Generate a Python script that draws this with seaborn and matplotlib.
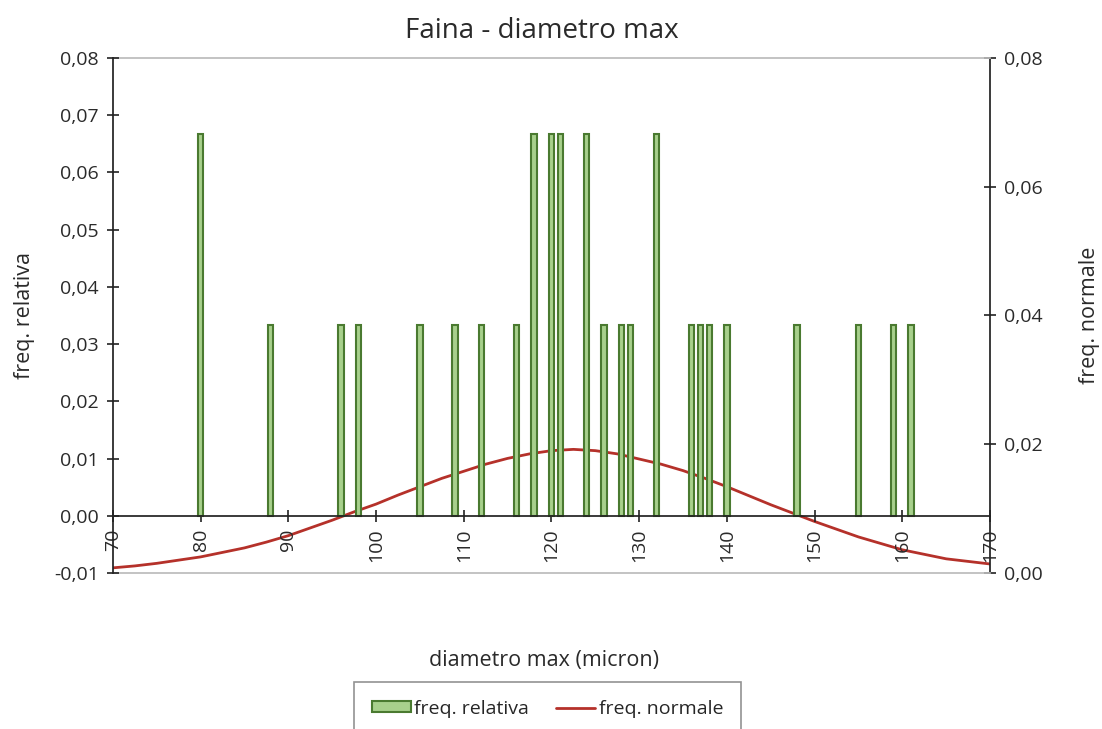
import numpy as np
import pandas as pd
import matplotlib
matplotlib.use('Agg')
import matplotlib.pyplot as plt
from matplotlib.patches import Patch
from matplotlib.lines import Line2D
from matplotlib.ticker import FuncFormatter, MultipleLocator
import seaborn as sns

# diametro max (micron) and relative frequency of each value (n = 30)
diametro = [80, 88, 96, 98, 105, 109, 112, 116, 118, 120, 121, 124,
            126, 128, 129, 132, 136, 137, 138, 140, 148, 155, 159, 161]
freq_relativa = [2/30, 1/30, 1/30, 1/30, 1/30, 1/30, 1/30, 1/30, 2/30, 2/30, 2/30, 2/30,
                 1/30, 1/30, 1/30, 2/30, 1/30, 1/30, 1/30, 1/30, 1/30, 1/30, 1/30, 1/30]

# normal curve, every 2.5 micron
x_norm = [70, 72.5, 75, 77.5, 80, 82.5, 85, 87.5, 90, 92.5, 95, 97.5, 100, 102.5,
          105, 107.5, 110, 112.5, 115, 117.5, 120, 122.5, 125, 127.5, 130, 132.5,
          135, 137.5, 140, 142.5, 145, 147.5, 150, 152.5, 155, 157.5, 160, 162.5,
          165, 167.5, 170]
freq_normale = [0.0008, 0.0011, 0.0015, 0.0020, 0.0025, 0.0032, 0.0039, 0.0048, 0.0058, 0.0070,
                0.0082, 0.0095, 0.0107, 0.0121, 0.0134, 0.0147, 0.0158, 0.0169, 0.0178, 0.0185,
                0.0190, 0.0192, 0.0190, 0.0185, 0.0177, 0.0169, 0.0159, 0.0147, 0.0134, 0.0120,
                0.0106, 0.0093, 0.0080, 0.0068, 0.0056, 0.0046, 0.0036, 0.0029, 0.0022, 0.0018,
                0.0014]

bars = pd.DataFrame({'diametro': diametro, 'freq': freq_relativa})
curve = pd.DataFrame({'x': x_norm, 'y': freq_normale})

sns.set_theme(style='white')
plt.rcParams['font.family'] = ['Open Sans', 'DejaVu Sans']

fig = plt.figure(figsize=(11.02, 7.29), dpi=100)
ax = fig.add_axes([0.1025, 0.214, 0.7959, 0.7066])

green_face = '#a8d08c'
green_edge = '#4a7a30'
red = '#b5312a'
txt = '#2a2a2a'

sns.barplot(data=bars, x='diametro', y='freq', native_scale=True, width=0.6,
            color=green_face, edgecolor=green_edge, linewidth=1.5, saturation=1, ax=ax)

ax.set_xlim(70, 170)
ax.set_ylim(-0.01, 0.08)
ax.yaxis.set_major_locator(MultipleLocator(0.01))
ax.xaxis.set_major_locator(MultipleLocator(10))
ax.yaxis.set_major_formatter(FuncFormatter(lambda v, p: f'{v:.2f}'.replace('.', ',')))
ax.xaxis.set_major_formatter(FuncFormatter(lambda v, p: f'{v:.0f}'))

ax.spines['bottom'].set_position(('data', 0))
ax.spines['bottom'].set_color('#222222')
ax.spines['left'].set_color('#222222')
ax.spines['top'].set_visible(False)
ax.spines['right'].set_visible(False)
ax.tick_params(axis='both', direction='inout', length=8, width=1.2, colors='#222222',
               labelsize=14, bottom=True, left=True)
ax.tick_params(axis='x', pad=5)
ax.tick_params(axis='y', pad=6)
for lab in ax.get_xticklabels():
    lab.set_rotation(90)
    lab.set_color(txt)
for lab in ax.get_yticklabels():
    lab.set_color(txt)

ax.set_xlabel('')
ax.set_ylabel('freq. relativa', fontsize=15.5, color=txt, labelpad=14)

ax2 = ax.twinx()
sns.lineplot(data=curve, x='x', y='y', color=red, linewidth=2, ax=ax2)
ax2.set_ylim(0, 0.08)
ax2.set_xlim(70, 170)
ax2.yaxis.set_major_locator(MultipleLocator(0.02))
ax2.yaxis.set_major_formatter(FuncFormatter(lambda v, p: f'{v:.2f}'.replace('.', ',')))
ax2.tick_params(axis='y', direction='inout', length=8, width=1.2, colors='#222222',
                labelsize=14, right=True, pad=6)
for lab in ax2.get_yticklabels():
    lab.set_color(txt)
ax2.spines['right'].set_color('#222222')
ax2.spines['left'].set_visible(False)
ax2.spines['top'].set_color('#bbbbbb')
ax2.spines['bottom'].set_color('#bbbbbb')
ax2.set_xlabel('')
ax2.set_ylabel('freq. normale', fontsize=15.5, color=txt, labelpad=26)

ax.set_zorder(ax2.get_zorder() + 1)
ax.patch.set_visible(False)
ax2.set_zorder(0)

fig.text(0.492, 0.957, 'Faina - diametro max', ha='center', va='center',
         fontsize=20, color=txt)
fig.text(0.494, 0.094, 'diametro max (micron)', ha='center', va='center',
         fontsize=15.5, color=txt)

handles = [Patch(facecolor=green_face, edgecolor=green_edge, linewidth=1.5),
           Line2D([0], [0], color=red, linewidth=2)]
leg = fig.legend(handles, ['freq. relativa', 'freq. normale'], loc='upper center',
                 bbox_to_anchor=(0.497, 0.064), ncol=2, frameon=True, fancybox=False,
                 fontsize=14, handlelength=2.0, handleheight=0.5, handletextpad=0.2,
                 columnspacing=1.4, borderpad=0.9, borderaxespad=0)
leg.get_frame().set_edgecolor('#777777')
leg.get_frame().set_linewidth(1.2)

fig.savefig('out.png', dpi=100)
